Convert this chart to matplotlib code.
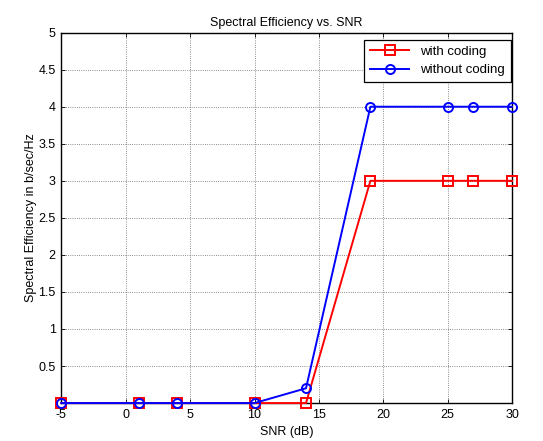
import matplotlib
matplotlib.use("Agg")
import matplotlib.pyplot as plt

# SNR points (dB) and spectral efficiency (b/sec/Hz)
snr_db = [-5, 1, 4, 10, 14, 19, 25, 27, 30]
se_with_coding = [0, 0, 0, 0, 0, 3, 3, 3, 3]
se_without_coding = [0, 0, 0, 0, 0.2, 4, 4, 4, 4]

x_ticks = [-5, 0, 5, 10, 15, 20, 25, 30]
y_ticks = [0.5, 1, 1.5, 2, 2.5, 3, 3.5, 4, 4.5, 5]
y_tick_labels = ["0.5", "1", "1.5", "2", "2.5", "3", "3.5", "4", "4.5", "5"]

plt.rcParams["font.family"] = ["Liberation Sans", "DejaVu Sans"]
plt.rcParams["font.size"] = 9
plt.rcParams["axes.unicode_minus"] = False

fig = plt.figure(figsize=(5.43, 4.41), dpi=100)
ax = fig.add_axes([0.113, 0.086, 0.830, 0.840])

ax.plot(snr_db, se_with_coding, color="red", marker="s", lw=1.4, ms=6.5,
        mfc="none", mew=1.4, label="with coding", clip_on=False, zorder=3)
ax.plot(snr_db, se_without_coding, color="blue", marker="o", lw=1.4, ms=6.5,
        mfc="none", mew=1.4, label="without coding", clip_on=False, zorder=4)

ax.set_xlim(-5, 30)
ax.set_ylim(0, 5)
ax.set_xticks(x_ticks)
ax.set_yticks(y_ticks)
ax.set_yticklabels(y_tick_labels)
ax.tick_params(direction="in", top=True, right=True, length=3, width=0.6,
               pad=4)
ax.grid(True, ls=":", color="#666666", lw=0.6)
for s in ax.spines.values():
    s.set_linewidth(1.0)

ax.set_xlabel("SNR (dB)", labelpad=4)
ax.set_ylabel("Spectral Efficiency in b/sec/Hz", labelpad=1)
ax.set_title("Spectral Efficiency vs. SNR", fontsize=9, pad=5)

leg = ax.legend(loc="upper right", bbox_to_anchor=(1.0, 0.984),
                fancybox=False, framealpha=1, edgecolor="black",
                fontsize=9.5, borderaxespad=0.1, handlelength=3.0,
                borderpad=0.45, labelspacing=0.45)
leg.get_frame().set_linewidth(0.9)
leg.set_zorder(5)

fig.savefig("out.png", dpi=100)
